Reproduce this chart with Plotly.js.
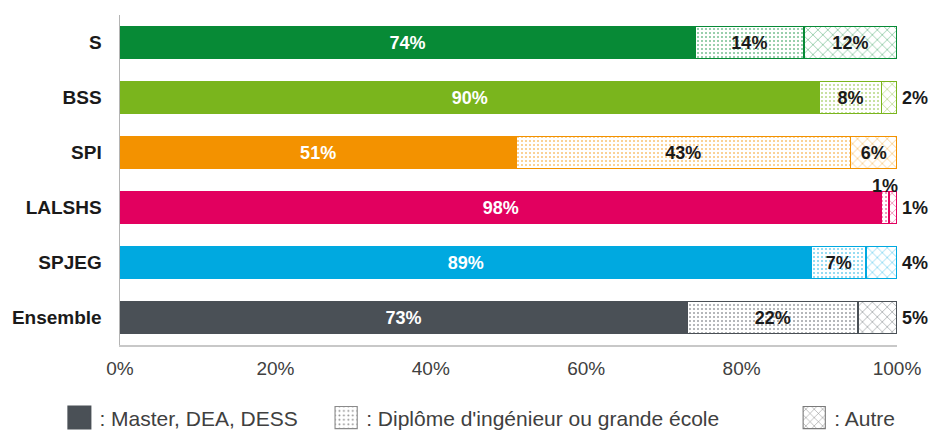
<!DOCTYPE html>
<html><head><meta charset="utf-8">
<script src="https://cdn.plot.ly/plotly-3.0.1.min.js"></script>
<style>html,body{margin:0;padding:0;background:#fff;}#chart{width:937px;height:432px;}</style>
</head><body><div id="chart"></div>
<script>
const categories = ['S','BSS','SPI','LALSHS','SPJEG','Ensemble'];
const rowColors = ['#078a36','#7ab51d','#f39200','#e2005f','#00a9e0','#4a5056'];
const master = [74, 90, 51, 98, 89, 73];
const diplome = [14, 8, 43, 1, 7, 22];
const autre = [12, 2, 6, 1, 4, 5];
const seriesNames = [': Master, DEA, DESS', ": Diplôme d'ingénieur ou grande école", ': Autre'];
const xTicks = [0, 20, 40, 60, 80, 100];
const legendGray = '#4a5056';

const MIN_INSIDE = 6;
const pct = v => v + '%';
const insideText = arr => arr.map(v => v >= MIN_INSIDE ? pct(v) : '');
const lblFont = (c) => ({family: 'Liberation Sans, Arial, sans-serif', size: 18, color: c, weight: 'bold'});
const pad = n => '\u00a0'.repeat(n);

const common = {type: 'bar', orientation: 'h', y: categories, textposition: 'inside',
  insidetextanchor: 'middle', textangle: 0, constraintext: 'none', showlegend: false,
  hoverinfo: 'skip'};

const dotPattern = (fg) => ({shape: '.', fgcolor: fg, bgcolor: '#ffffff', size: 4, solidity: 0.2, fgopacity: 0.55});
const hatchPattern = (fg) => ({shape: 'x', fgcolor: fg, bgcolor: '#ffffff', size: 7, solidity: 0.12, fgopacity: 0.9});

const traces = [
  Object.assign({}, common, {x: master, text: insideText(master), textfont: lblFont('#ffffff'),
    marker: {color: rowColors, line: {color: rowColors, width: 1}}}),
  Object.assign({}, common, {x: diplome, text: insideText(diplome), textfont: lblFont('#1a1a1a'),
    marker: {color: '#ffffff', line: {color: rowColors, width: 1.6}, pattern: dotPattern(rowColors)}}),
  Object.assign({}, common, {x: autre, text: insideText(autre), textfont: lblFont('#1a1a1a'),
    marker: {color: '#ffffff', line: {color: rowColors, width: 1.6}, pattern: hatchPattern(rowColors)}}),
  // legend-only entries (drawn on a hidden overlay axis, off-range)
  {type: 'bar', orientation: 'h', x: [1], y: [0], yaxis: 'y2', name: seriesNames[0] + pad(4), showlegend: true,
    marker: {color: legendGray, line: {color: legendGray, width: 1}}, hoverinfo: 'skip'},
  {type: 'bar', orientation: 'h', x: [1], y: [0], yaxis: 'y2', name: seriesNames[1] + pad(12), showlegend: true,
    marker: {color: '#ffffff', line: {color: '#8a8a8a', width: 0.6},
      pattern: {shape: '.', fgcolor: '#8a8a8a', bgcolor: '#ffffff', size: 3, solidity: 0.15}}, hoverinfo: 'skip'},
  {type: 'bar', orientation: 'h', x: [1], y: [0], yaxis: 'y2', name: seriesNames[2], showlegend: true,
    marker: {color: '#ffffff', line: {color: '#7a7a7a', width: 0.6},
      pattern: {shape: 'x', fgcolor: '#7a7a7a', bgcolor: '#ffffff', size: 4, solidity: 0.15}}, hoverinfo: 'skip'}
];

// outside labels for small segments
const annotations = [];
categories.forEach((c, i) => {
  if (autre[i] < MIN_INSIDE) {
    annotations.push({x: master[i] + diplome[i] + autre[i], y: c, xref: 'x', yref: 'y',
      text: pct(autre[i]), showarrow: false, xanchor: 'left', xshift: 3, font: lblFont('#1a1a1a')});
  }
  if (diplome[i] < MIN_INSIDE && autre[i] < MIN_INSIDE && diplome[i] <= 2) {
    annotations.push({x: master[i] + diplome[i] / 2, y: c, xref: 'x', yref: 'y',
      text: pct(diplome[i]), showarrow: false, yshift: 22, font: lblFont('#1a1a1a')});
  }
});

const layout = {
  width: 937, height: 432,
  margin: {l: 120, r: 40, t: 15, b: 87, autoexpand: false},
  paper_bgcolor: '#ffffff', plot_bgcolor: '#ffffff',
  barmode: 'stack', bargap: 0.42,
  font: {family: 'Liberation Sans, Arial, sans-serif', color: '#404040'},
  xaxis: {range: [0, 100], tickvals: xTicks, ticktext: xTicks.map(pct), showgrid: false, zeroline: false,
    showline: true, linecolor: '#c8c8c8', linewidth: 1.5, ticks: 'outside', ticklen: 6,
    tickcolor: 'rgba(0,0,0,0)', tickfont: {size: 19, color: '#404040'}, fixedrange: true},
  yaxis: {categoryorder: 'array', categoryarray: categories, autorange: 'reversed', showgrid: false,
    zeroline: false, showline: true, linecolor: '#b4b4b4', linewidth: 1.5, ticks: 'outside', ticklen: 13,
    tickcolor: 'rgba(0,0,0,0)', tickfont: {size: 19, color: '#1a1a1a', weight: 'bold'}, fixedrange: true},
  yaxis2: {overlaying: 'y', visible: false, range: [10, 11]},
  showlegend: true,
  legend: {orientation: 'h', traceorder: 'normal', x: -0.078, xanchor: 'left', y: -0.221, yanchor: 'middle',
    font: {family: 'Liberation Sans, Arial, sans-serif', size: 21, color: '#404040'},
    tracegroupgap: 0, bgcolor: 'rgba(0,0,0,0)'},
  annotations: annotations
};

Plotly.newPlot('chart', traces, layout, {displayModeBar: false, staticPlot: true}).then(function (gd) {
  // enlarge the legend swatches to the square size used in the reference
  gd.querySelectorAll('.legend .legendpoints path').forEach(function (p) {
    const t = p.getAttribute('transform') || '';
    p.setAttribute('transform', t + ' scale(1.85)');
  });
});
</script></body></html>
